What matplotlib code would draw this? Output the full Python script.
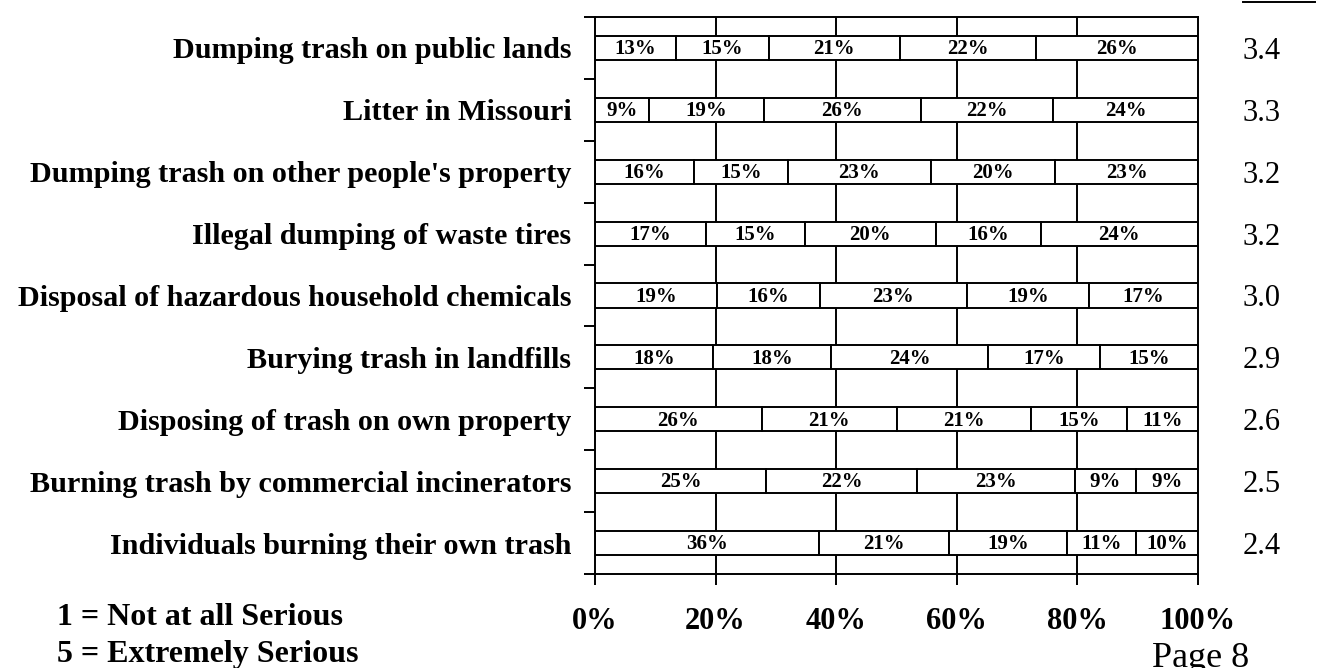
import matplotlib
matplotlib.use("Agg")
import matplotlib.pyplot as plt
from matplotlib.lines import Line2D
import numpy as np

plt.rcParams['font.family'] = ['Liberation Serif', 'DejaVu Serif']

categories = [
    "Dumping trash on public lands",
    "Litter in Missouri",
    "Dumping trash on other people's property",
    "Illegal dumping of waste tires",
    "Disposal of hazardous household chemicals",
    "Burying trash in landfills",
    "Disposing of trash on own property",
    "Burning trash by commercial incinerators",
    "Individuals burning their own trash",
]
s1 = [13, 9, 16, 17, 19, 18, 26, 25, 36]
s2 = [15, 19, 15, 15, 16, 18, 21, 22, 21]
s3 = [21, 26, 23, 20, 23, 24, 21, 23, 19]
s4 = [22, 22, 20, 16, 19, 17, 15, 9, 11]
s5 = [26, 24, 23, 24, 17, 15, 11, 9, 10]
means = ["3.4", "3.3", "3.2", "3.2", "3.0", "2.9", "2.6", "2.5", "2.4"]
xtick_labels = ["0%", "20%", "40%", "60%", "80%", "100%"]

W, H = 1330, 668
fig = plt.figure(figsize=(W / 100, H / 100), dpi=100)
ax = fig.add_axes([595 / W, 1 - 574 / H, 603 / W, 557 / H])

series = np.array([s1, s2, s3, s4, s5], dtype=float)
totals = series.sum(axis=0)
shares = series / totals * 100
y = np.arange(len(categories)) + 0.5

ax.set_xlim(0, 100)
ax.set_ylim(len(categories), 0)

for gx in [20, 40, 60, 80]:
    ax.axvline(gx, color='black', lw=1.4, zorder=1)

left = np.zeros(len(categories))
for k in range(series.shape[0]):
    ax.barh(y, shares[k], left=left, height=0.39, color='white',
            edgecolor='black', linewidth=1.4, zorder=2)
    for i in range(len(categories)):
        ax.text(left[i] + shares[k][i] / 2, y[i] - 0.02, f"{int(series[k][i])}%",
                ha='center', va='center_baseline', fontsize=15,
                fontweight='bold', zorder=3)
    left = left + shares[k]

for i in range(len(categories)):
    ax.text(110.6, y[i], means[i], ha='center', va='center_baseline',
            fontsize=22, clip_on=False)

# axes styling
for sp in ax.spines.values():
    sp.set_linewidth(1.4)
ax.set_xticks([0, 20, 40, 60, 80, 100])
ax.set_xticklabels(xtick_labels, fontsize=22, fontweight='bold')
ax.tick_params(axis='x', direction='out', length=8, width=1.4, pad=16)
ax.set_yticks(np.arange(len(categories) + 1))
ax.set_yticklabels([])
ax.tick_params(axis='y', which='major', direction='out', length=8, width=1.4)
ax.set_yticks(y, minor=True)
ax.set_yticklabels(categories, minor=True, fontsize=21.7, fontweight='bold')
ax.tick_params(axis='y', which='minor', length=0, pad=17)

fig.text(57 / W, 1 - 625 / H, "1 = Not at all Serious", fontsize=23,
         fontweight='bold', ha='left', va='baseline')
fig.text(57 / W, 1 - 662 / H, "5 = Extremely Serious", fontsize=23,
         fontweight='bold', ha='left', va='baseline')
fig.text(1152 / W, 1 - 667 / H, "Page 8", fontsize=26, ha='left',
         va='baseline')
fig.add_artist(Line2D([1243 / W, 1315 / W], [1 - 1.5 / H, 1 - 1.5 / H],
                      transform=fig.transFigure, color='black', lw=1.4))

fig.savefig("out.png", dpi=100)
